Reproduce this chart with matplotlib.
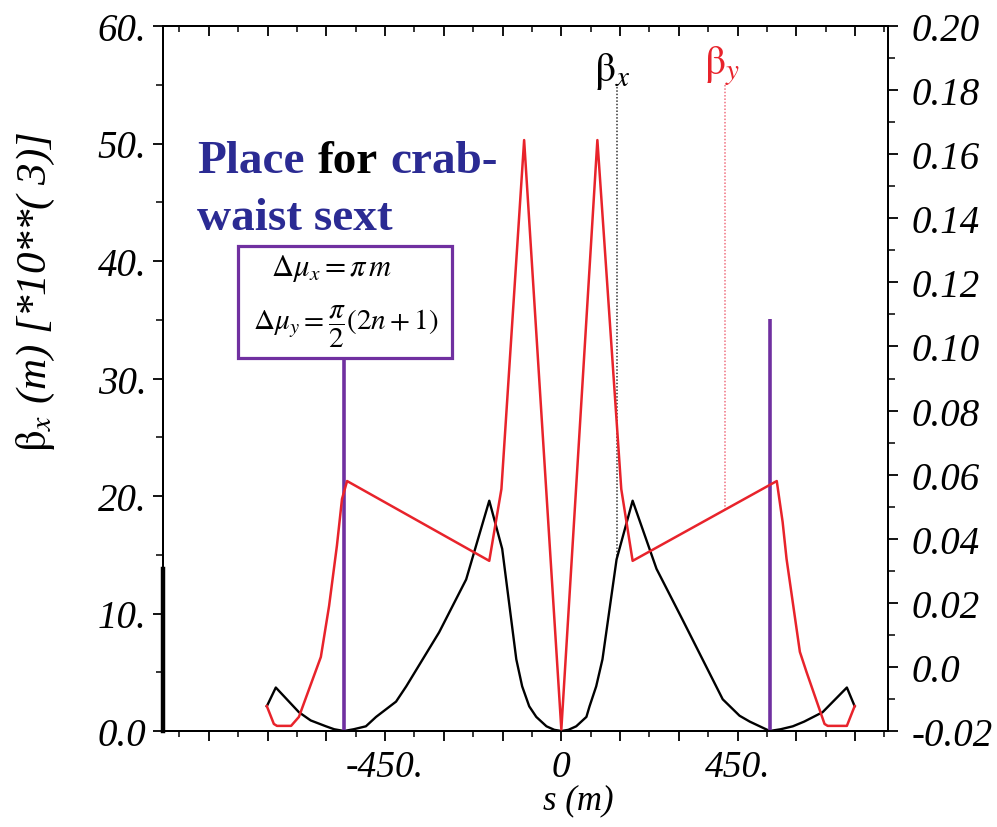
import matplotlib
matplotlib.use("Agg")
import matplotlib.pyplot as plt
from matplotlib.patches import Rectangle
from matplotlib.ticker import MultipleLocator

plt.rcParams['mathtext.fontset'] = 'stix'
plt.rcParams['font.family'] = ['Liberation Serif', 'DejaVu Serif']

# beta_x (left axis, units of 10^3 m) vs s (m)
bx_s = [-752, -729, -670, -640, -601, -580, -555, -530, -499, -473, -422, -396, -312, -243,
        -184, -151, -115, -100, -82, -64, -38, -18, 0,
        18, 38, 64, 72, 89, 105, 141, 182, 243, 309, 412, 455, 481, 532, 560, 591, 620, 667,
        729, 749]
bx_val = [2.1, 3.7, 1.6, 0.9, 0.4, 0.15, 0.0, 0.15, 0.4, 1.2, 2.5, 3.8, 8.4, 12.9,
          19.6, 15.5, 6.1, 3.8, 2.1, 1.2, 0.4, 0.1, 0.0,
          0.1, 0.4, 1.2, 2.1, 3.8, 6.1, 14.6, 19.6, 13.8, 9.5, 2.7, 1.3, 0.8, 0.0, 0.15, 0.4,
          0.8, 1.6, 3.7, 2.1]

# beta_y (right axis scale) vs s (m)
by_s = [-752, -734, -726, -690, -670, -614, -593, -573, -560, -547, -184, -153, -95, 0,
        92, 153, 182, 550, 565, 575, 609, 626, 672, 680, 729, 749]
by_val = [-0.0122, -0.0178, -0.0184, -0.0184, -0.0156, 0.0031, 0.0190, 0.0378, 0.0524, 0.0580,
          0.0331, 0.0555, 0.1644, -0.0195,
          0.1644, 0.0555, 0.0331, 0.0580, 0.0452, 0.0337, 0.0047, -0.0016, -0.0178, -0.0184,
          -0.0184, -0.0122]

# crab-waist sextupole places (s, top of marker line in left-axis units)
sext_s = [-555, 532]
sext_top = [31.7, 35.1]

# label markers (dotted lines)
bx_mark = (141, 55.1, 14.6)
by_mark = (419, 0.182, 0.049)

left_ticks = [0, 10, 20, 30, 40, 50, 60]
left_labels = ['0.0', '10.', '20.', '30.', '40.', '50.', '60.']
right_ticks = [-0.02, 0.0, 0.02, 0.04, 0.06, 0.08, 0.10, 0.12, 0.14, 0.16, 0.18, 0.20]
right_labels = ['-0.02', '0.0', '0.02', '0.04', '0.06', '0.08', '0.10', '0.12', '0.14',
                '0.16', '0.18', '0.20']
x_ticks = [-900, -750, -600, -450, -300, -150, 0, 150, 300, 450, 600, 750]
x_labels = ['', '', '', '-450.', '', '', '0', '', '', '450.', '', '']

RED = '#e8232b'
PURPLE = '#7030a0'
BLUE = '#2b2b93'

fig = plt.figure(figsize=(9.97, 8.28), dpi=100)
ax = fig.add_axes([163 / 997, 1 - 732 / 828, 725 / 997, 705 / 828])
ax2 = ax.twinx()

ax.plot(bx_s, bx_val, color='black', lw=1.7, zorder=3)
ax2.plot(by_s, by_val, color=RED, lw=1.8, zorder=3)

ax.vlines(bx_mark[0], bx_mark[2], bx_mark[1], colors='#333333', linestyles=(0, (1, 1.2)), lw=1.1)
ax2.vlines(by_mark[0], by_mark[2], by_mark[1], colors='#f07080', linestyles=(0, (1, 1.2)), lw=1.1)
ax.text(bx_mark[0] - 10, bx_mark[1] - 0.6, r'$\mathrm{\beta}_{\mathit{x}}$', fontsize=30,
        ha='center', va='bottom', color='black')
ax2.text(by_mark[0] - 10, by_mark[1] - 0.001, r'$\mathrm{\beta}_{\mathit{y}}$', fontsize=30,
         ha='center', va='bottom', color=RED)

ax.vlines(sext_s, 0, sext_top, colors=PURPLE, lw=2.6, zorder=4)

ax.set_xlim(-1017, 834)
ax.set_ylim(0, 60)
ax2.set_ylim(-0.02, 0.20)

ax.set_yticks(left_ticks, left_labels)
ax.yaxis.set_minor_locator(MultipleLocator(5))
ax2.set_yticks(right_ticks, right_labels)
ax2.yaxis.set_minor_locator(MultipleLocator(0.01))
ax.set_xticks(x_ticks, x_labels)
ax.xaxis.set_minor_locator(MultipleLocator(75))

sec = ax.secondary_xaxis('top')
sec.set_xticks(x_ticks, [''] * len(x_ticks))
sec.xaxis.set_minor_locator(MultipleLocator(75))
sec.tick_params(which='major', direction='in', length=7, width=1.3)
sec.tick_params(which='minor', direction='in', length=4, width=1.1)

for a in (ax, ax2):
    for sp in a.spines.values():
        sp.set_linewidth(1.4)
sec.spines['top'].set_linewidth(1.4)

ax.tick_params(axis='y', which='major', direction='out', length=7, width=1.3, pad=5,
               labelsize=28)
ax.tick_params(axis='y', which='minor', direction='out', length=5, width=1.1)
ax.tick_params(axis='x', which='major', direction='out', length=7, width=1.3, pad=6,
               labelsize=27)
ax.tick_params(axis='x', which='minor', direction='out', length=4, width=1.1)
ax2.tick_params(axis='y', which='major', direction='out', length=7, width=1.3, pad=10,
                labelsize=28)
ax2.tick_params(axis='y', which='minor', direction='out', length=5, width=1.1)
for lab in ax.get_xticklabels() + ax.get_yticklabels() + ax2.get_yticklabels():
    lab.set_fontstyle('italic')

# heavier stretch of the left spine near the bottom
ax.plot([-1017, -1017], [0, 13.8], color='black', lw=3.2, clip_on=False, zorder=5)

fig.text(578 / 997, 1 - 801 / 828, 's (m)', fontsize=25, fontstyle='italic',
         ha='center', va='center')
fig.text(36 / 997, 1 - 292 / 828, r'$\mathrm{\beta}_{\mathit{x}}$ (m) [*10**( 3)]',
         fontsize=31, fontstyle='italic', rotation=90, ha='center', va='center')

# annotation
fig.text(197 / 997, 1 - 173 / 828, 'Place', fontsize=34, fontweight='bold', color=BLUE,
         va='baseline')
fig.text(318 / 997, 1 - 173 / 828, 'for', fontsize=34, fontweight='bold', color='black',
         va='baseline')
fig.text(390 / 997, 1 - 173 / 828, 'crab-', fontsize=34, fontweight='bold', color=BLUE,
         va='baseline')
fig.text(197 / 997, 1 - 230 / 828, 'waist sext', fontsize=34, fontweight='bold', color=BLUE,
         va='baseline')

fig.patches.append(Rectangle((238 / 997, 1 - 359 / 828), 214 / 997, 112 / 828,
                             transform=fig.transFigure, fill=True, facecolor='white',
                             edgecolor=PURPLE, lw=2.3, zorder=6))
fig.text(332 / 997, 1 - 268 / 828, r'$\Delta\mu_x = \pi\, m$', fontsize=22,
         ha='center', va='center', zorder=7)
fig.text(346 / 997, 1 - 327 / 828, r'$\Delta\mu_y = \dfrac{\pi}{2}(2n+1)$', fontsize=21,
         ha='center', va='center', zorder=7)

fig.savefig('out.png', dpi=100)
